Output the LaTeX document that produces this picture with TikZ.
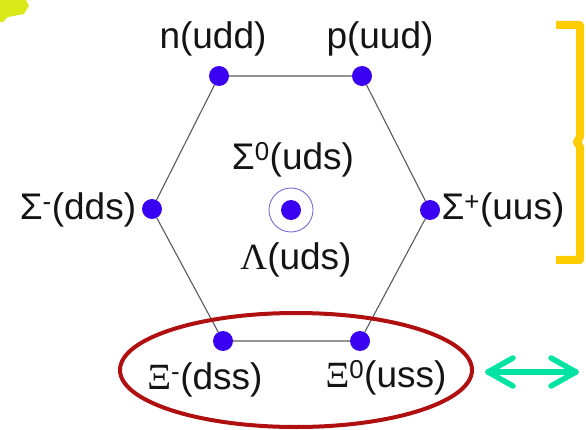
\documentclass[tikz,border=0pt]{standalone}
\usepackage{fontspec}
\setmainfont{Liberation Sans}
\newfontfamily\grkserif{Liberation Serif}
\usetikzlibrary{shapes.geometric}
\definecolor{dotblue}{HTML}{3A00F2}
\definecolor{ringpurple}{HTML}{7B6AD6}
\definecolor{edgegray}{HTML}{5A5A5A}
\definecolor{bracketyellow}{HTML}{FFCC00}
\definecolor{ovalred}{HTML}{B00F0F}
\definecolor{arrowgreen}{HTML}{00E3A2}
\definecolor{smudge}{HTML}{D6E800}
\tikzset{
  quark/.style={circle,fill=dotblue,inner sep=0pt,minimum size=20pt},
  lbl/.style={inner sep=0pt,font=\fontsize{37}{40}\selectfont,text=black!92},
  edge/.style={draw=edgegray,line width=1.1pt},
  greenline/.style={draw=arrowgreen,line width=5.5pt,line cap=round,line join=round},
}
\begin{document}
\begin{tikzpicture}[x=1pt,y=-1pt]
\useasboundingbox (0,0) rectangle (586,430);
% yellow smudge
\fill[smudge,opacity=0.9] (0,0) -- (26,0) -- (29,6) -- (24,14) -- (8,17) -- (3,22) -- (0,22) -- cycle;
% hexagon vertices
\node[quark] (n) at (219,76) {};
\node[quark] (p) at (362,76) {};
\node[quark] (sp) at (430,210) {};
\node[quark] (x0) at (360,341) {};
\node[quark] (xm) at (223,341) {};
\node[quark] (sm) at (152,209) {};
\draw[edge] (n) -- (p) -- (sp) -- (x0) -- (xm) -- (sm) -- (n);
% center
\node[quark] (c) at (291,210) {};
\node[circle,draw=ringpurple,line width=0.9pt,minimum size=44pt,inner sep=0pt] (ring) at (c) {};
% labels
\node[lbl] (ln) at (213,39) {n(udd)};
\node[lbl] (lp) at (380,39) {p(uud)};
\node[lbl] (lsm) at (78,210) {Σ\textsuperscript{-}(dds)};
\node[lbl] (lsp) at (503,210) {Σ\textsuperscript{+}(uus)};
\node[lbl] (ls0) at (293,160) {Σ\textsuperscript{0}(uds)};
\node[lbl] (lla) at (296,260) {{\grkserif Λ}(uds)};
\node[lbl] (lxm) at (205,380) {{\grkserif Ξ}\textsuperscript{-}(dss)};
\node[lbl] (lx0) at (386,378) {{\grkserif Ξ}\textsuperscript{0}(uss)};
% red oval
\node[ellipse,draw=ovalred,line width=4pt,minimum width=352pt,minimum height=114pt,inner sep=0pt] (oval) at (296,370) {};
% yellow bracket
\draw[bracketyellow,line width=8pt,line join=round] (556,25) -- (580,25) -- (580,137) -- (577,142) -- (580,147) -- (580,260) -- (556,260);
% green double arrow
\coordinate (ga) at (488,372);
\coordinate (gb) at (576,372);
\draw[greenline] (ga) -- (gb);
\draw[greenline] ([shift={(25,-14)}]ga) -- (ga) -- ([shift={(25,14)}]ga);
\draw[greenline] ([shift={(-25,-14)}]gb) -- (gb) -- ([shift={(-25,14)}]gb);
\end{tikzpicture}
\end{document}
